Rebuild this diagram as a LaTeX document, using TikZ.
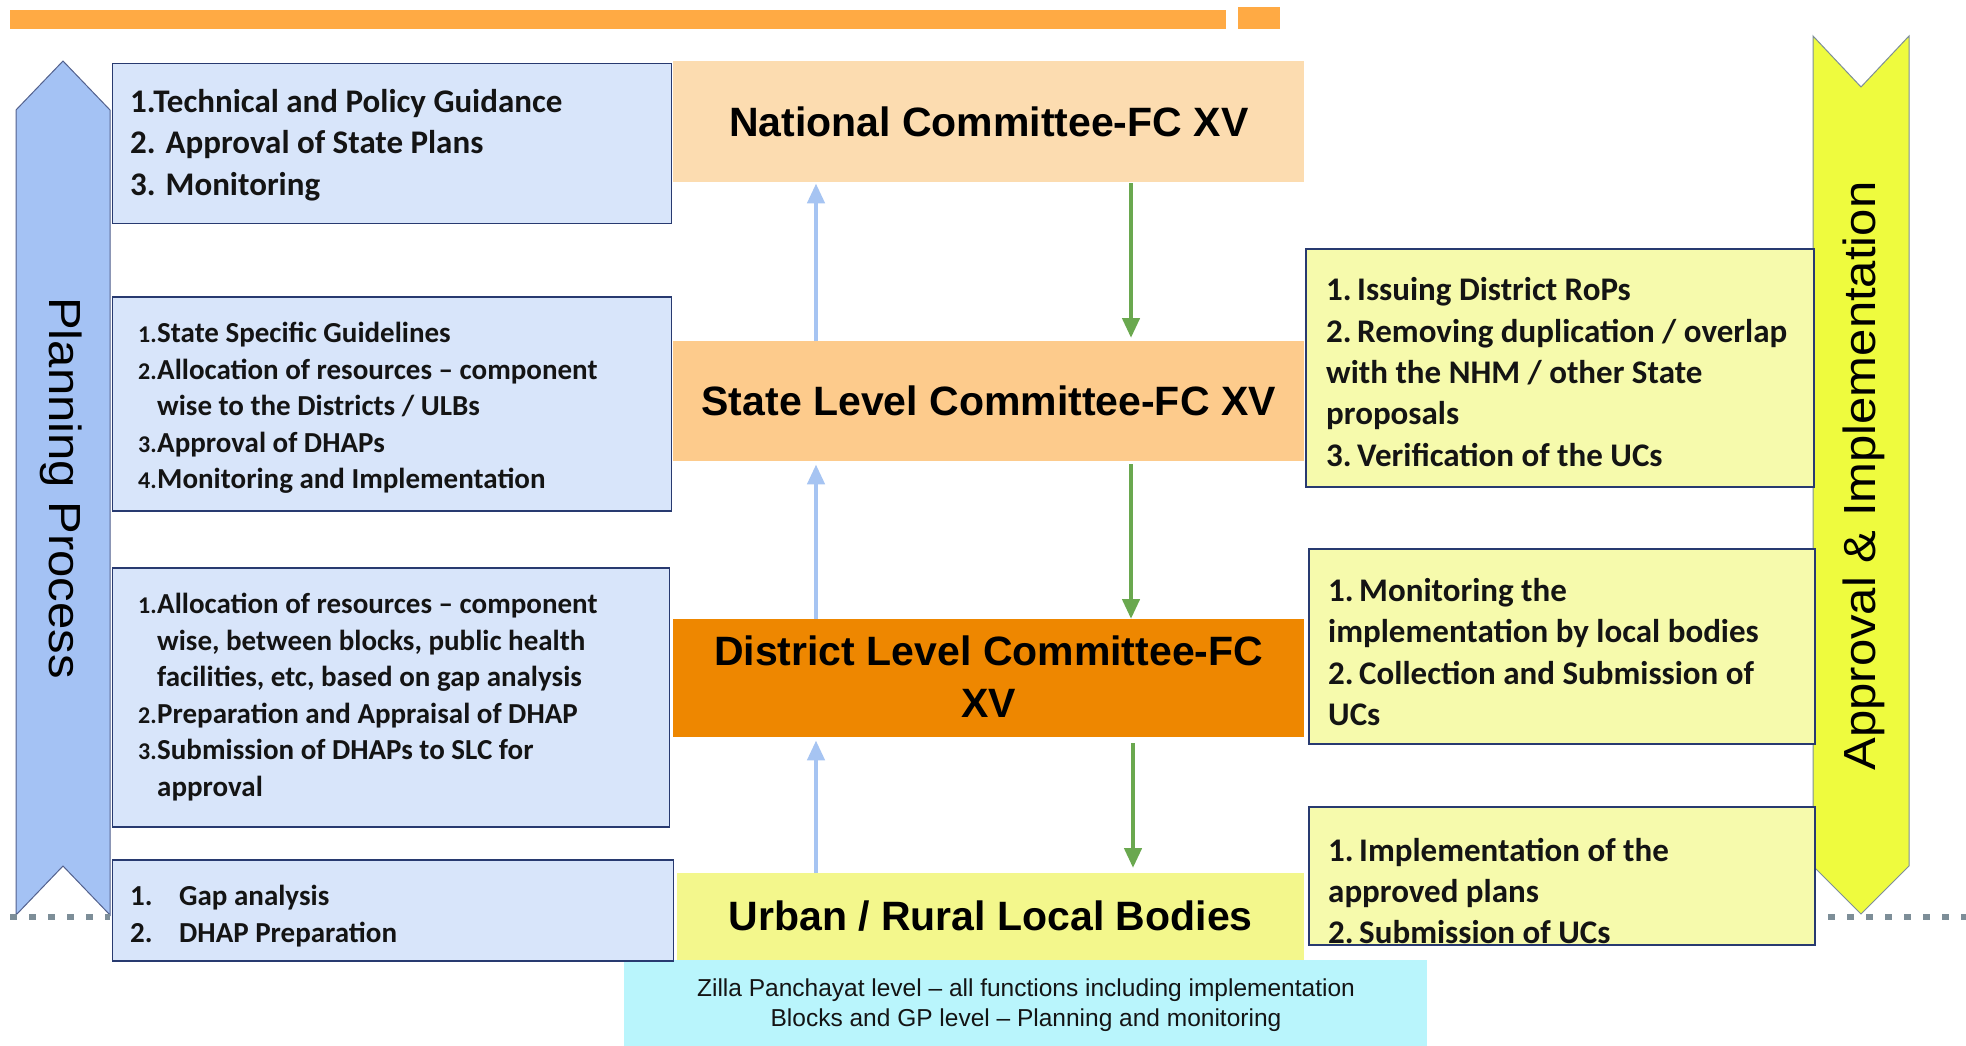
\documentclass[tikz,border=0pt]{standalone}
\usepackage{fontspec}
\setmainfont{Liberation Sans}
\newfontfamily\titlefont{Liberation Sans}
\newfontfamily\boxfont{Carlito}
\newfontfamily\arrowfont[FakeStretch=1.09]{Liberation Sans}
\usetikzlibrary{arrows.meta}
\definecolor{barorange}{RGB}{255,170,68}
\definecolor{boxblue}{RGB}{216,229,250}
\definecolor{boxline}{RGB}{40,58,112}
\definecolor{arrowblue}{RGB}{164,194,244}
\definecolor{natfill}{RGB}{252,220,176}
\definecolor{statefill}{RGB}{253,203,140}
\definecolor{distfill}{RGB}{238,135,0}
\definecolor{urbanfill}{RGB}{243,247,140}
\definecolor{ryellow}{RGB}{246,250,172}
\definecolor{arrowyellow}{RGB}{238,251,62}
\definecolor{cyanfill}{RGB}{185,245,252}
\definecolor{dotgrey}{RGB}{125,142,152}
\definecolor{upblue}{RGB}{166,196,242}
\definecolor{downgreen}{RGB}{106,168,79}
\definecolor{txt}{RGB}{20,20,20}
\newcommand{\nm}[1]{\makebox[19pt][l]{\fontsize{24}{24}\selectfont #1}}
\tikzset{
  bluebox/.style={draw=boxline, fill=boxblue, line width=1.6pt, rectangle, inner sep=0pt, anchor=north west},
  yelbox/.style={draw=boxline, fill=ryellow, line width=1.6pt, rectangle, inner sep=0pt, anchor=north west},
  level/.style={rectangle, inner sep=0pt, anchor=north west},
  titletext/.style={inner sep=0pt, align=center, font=\titlefont\bfseries\fontsize{41}{52}\selectfont},
  bigtext/.style={inner sep=0pt, anchor=west, align=left, text=txt, font=\boxfont\bfseries\fontsize{33}{41.4}\selectfont},
  smalltext/.style={inner sep=0pt, anchor=west, align=left, text=txt, font=\boxfont\bfseries\fontsize{29}{36.6}\selectfont},
  uparr/.style={draw=upblue, line width=4.5pt, -{Triangle[width=17pt,length=20pt]}},
  downarr/.style={draw=downgreen, line width=4.5pt, -{Triangle[width=17pt,length=20pt]}},
  dots/.style={draw=dotgrey, line width=6pt, dash pattern=on 7pt off 12pt}
}
\begin{document}
\begin{tikzpicture}[x=1pt,y=-1pt]
\useasboundingbox (0,0) rectangle (1966,1046);
% top bar
\fill[barorange] (10,10) rectangle (1226,29);
\fill[barorange] (1238,7) rectangle (1280,29);
% left arrow (planning process)
\draw[fill=arrowblue, draw=boxline!80, line width=1pt]
  (16,110) -- (63,61) -- (110,110) -- (110,915) -- (63,866) -- (16,915) -- cycle;
\node[font=\arrowfont\fontsize{45}{45}\selectfont, rotate=-90, inner sep=0pt] (pp) at (61,488) {Planning Process};
% right arrow (approval)
\draw[fill=arrowyellow, draw=dotgrey, line width=1pt]
  (1813,36) -- (1861,87) -- (1909,36) -- (1909,866) -- (1861,914) -- (1813,866) -- cycle;
\node[font=\arrowfont\fontsize{45}{45}\selectfont, rotate=90, inner sep=0pt] (ai) at (1864,476) {Approval \& Implementation};
% dotted lines
\coordinate (dl1) at (10,917);
\coordinate (dl2) at (110,917);
\coordinate (dr1) at (1828,917);
\coordinate (dr2) at (1966,917);
\draw[dots] (dl1) -- (dl2);
\draw[dots] (dr1) -- (dr2);
% central levels
\node[level, fill=natfill, minimum width=631, minimum height=121] (nat) at (673,61) {};
\node[titletext] (natt) at (nat.center) {National Committee-FC XV};
\node[level, fill=statefill, minimum width=631, minimum height=120] (state) at (673,341) {};
\node[titletext] (statet) at (state.center) {State Level Committee-FC XV};
\node[level, fill=distfill, minimum width=631, minimum height=118] (dist) at (673,619) {};
\node[titletext] (distt) at ([yshift=2pt]dist.center) {District Level Committee-FC\\XV};
\node[level, fill=urbanfill, minimum width=627, minimum height=88] (urban) at (677,873) {};
\node[titletext] (urbant) at ([yshift=1pt]urban.center) {Urban / Rural Local Bodies};
% cyan box
\node[level, fill=cyanfill, minimum width=803, minimum height=87] (cyan) at (624,960) {};
\node[align=center, inner sep=0pt, text=txt, font=\fontsize{24.5}{30}\selectfont] (cyant) at (1026,1005) {Zilla Panchayat level – all functions including implementation\\Blocks and GP level – Planning and monitoring};
% left boxes
\node[bluebox, minimum width=559, minimum height=160] (b1) at (111.6,62.7) {};
\node[bigtext] (b1t) at (130,145) {1.Technical and Policy Guidance\\2. Approval of State Plans\\3. Monitoring};
\node[bluebox, minimum width=559, minimum height=214] (b2) at (111.6,296) {};
\node[smalltext] (b2t) at (138,408) {\nm{1.}State Specific Guidelines\\\nm{2.}Allocation of resources – component\\\hspace*{19pt}wise to the Districts / ULBs\\\nm{3.}Approval of DHAPs\\\nm{4.}Monitoring and Implementation};
\node[bluebox, minimum width=557, minimum height=259] (b3) at (111.6,567) {};
\node[smalltext] (b3t) at (138,697) {\nm{1.}Allocation of resources – component\\\hspace*{19pt}wise, between blocks, public health\\\hspace*{19pt}facilities, etc, based on gap analysis\\\nm{2.}Preparation and Appraisal of DHAP\\\nm{3.}Submission of DHAPs to SLC for\\\hspace*{19pt}approval};
\node[bluebox, minimum width=561, minimum height=101] (b4) at (111.6,859) {};
\node[smalltext] (b4t) at (130,916) {\makebox[49pt][l]{1.}Gap analysis\\\makebox[49pt][l]{2.}DHAP Preparation};
% right boxes
\node[yelbox, minimum width=508, minimum height=238] (r1) at (1305,248) {};
\node[bigtext] (r1t) at (1326,372) {1.\,Issuing District RoPs\\2.\,Removing duplication / overlap\\with the NHM / other State\\proposals\\3.\,Verification of the UCs};
\node[yelbox, minimum width=506, minimum height=195] (r2) at (1308,548) {};
\node[bigtext] (r2t) at (1328,652) {1.\,Monitoring the\\implementation by local bodies\\2.\,Collection and Submission of\\UCs};
\node[yelbox, minimum width=506, minimum height=138] (r3) at (1308,806) {};
\node[bigtext] (r3t) at (1328,891) {1.\,Implementation of the\\approved plans\\2.\,Submission of UCs};
% vertical arrows
\coordinate (bx) at (816,0);
\coordinate (gx) at (1131,0);
\coordinate (gx2) at (1133,0);
\draw[uparr] (state.north -| bx) -- ([yshift=-1pt]nat.south -| bx);
\draw[uparr] (dist.north -| bx) -- ([yshift=-3pt]state.south -| bx);
\draw[uparr] (urban.north -| bx) -- ([yshift=-3pt]dist.south -| bx);
\draw[downarr] ([yshift=-1pt]nat.south -| gx) -- ([yshift=3pt]state.north -| gx);
\draw[downarr] ([yshift=-3pt]state.south -| gx) -- (dist.north -| gx);
\draw[downarr] ([yshift=-6pt]dist.south -| gx2) -- ([yshift=5pt]urban.north -| gx2);
\end{tikzpicture}
\end{document}
